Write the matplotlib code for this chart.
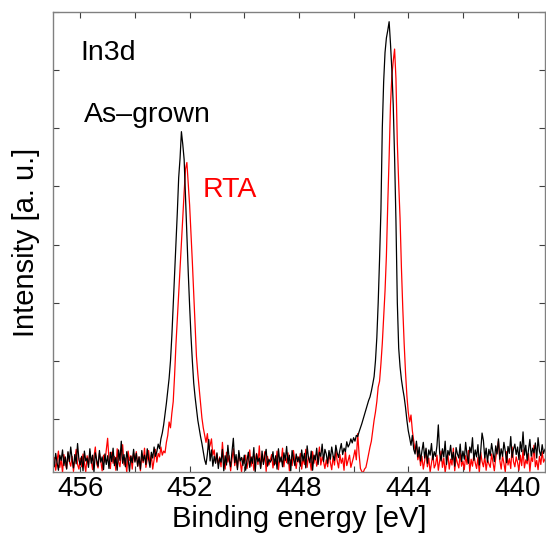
import numpy as np
import matplotlib
matplotlib.use("Agg")
import matplotlib.pyplot as plt
from matplotlib.ticker import MultipleLocator

plt.rcParams["font.family"] = ["Liberation Sans", "DejaVu Sans"]

# In3d XPS spectra, sampled every 0.05 eV from 457.00 eV down to 439.00 eV
e_start = 457.0
e_step = 0.05

# As-grown (black), one row per 1 eV
as_grown = [
    32, 18, 41, 25, 12, 38, 29, 47, 20, 35, 14, 44, 27, 52, 31, 16, 39, 23, 58, 30,  # 457-456
    21, 36, 11, 45, 28, 33, 17, 49, 24, 38, 9, 42, 30, 19, 46, 26, 35, 13, 40, 22,   # 456-455
    37, 15, 43, 27, 50, 20, 34, 12, 47, 29, 62, 24, 39, 18, 44, 31, 10, 36, 25, 48,  # 455-454
    26, 41, 19, 35, 14, 46, 28, 38, 22, 49, 31, 17, 43, 33, 52, 36, 44, 57, 49, 66,  # 454-453
    76, 90, 108, 127, 148, 170, 200, 243, 295, 348, 400, 455, 515, 548, 594, 572, 546, 480, 418, 352,
    295, 243, 200, 162, 138, 118, 98, 84, 70, 58, 44, 30, 22, 40, 65, 28, 47, 19, 36, 24,
    42, 15, 33, 26, 48, 11, 37, 21, 55, 30, 18, 44, 67, 25, 39, 13, 46, 28, 34, 20,  # 451-450
    38, 12, 29, 43, 17, 35, 24, 51, 9, 40, 27, 33, 15, 45, 22, 36, 48, 19, 31, 26,   # 450-449
    30, 44, 21, 37, 14, 49, 26, 35, 18, 42, 29, 53, 23, 38, 11, 46, 32, 20, 40, 27,  # 449-448
    35, 19, 47, 28, 41, 16, 54, 33, 25, 45, 12, 38, 30, 50, 22, 43, 36, 57, 27, 48,  # 448-447
    40, 24, 46, 31, 52, 37, 29, 55, 42, 34, 47, 58, 39, 50, 44, 61, 52, 57, 66, 59,  # 447-446
    68, 62, 72, 70, 78, 85, 92, 100, 108, 116, 124, 132, 138, 148, 160, 173, 200, 240, 300, 375,
    459, 600, 680, 730, 755, 768, 783, 745, 700, 640, 550, 440, 300, 222, 190, 168, 152, 138, 120, 98,
    80, 68, 55, 72, 48, 40, 62, 35, 52, 28, 45, 60, 33, 50, 24, 47, 38, 58, 30, 44,  # 444-443
    36, 54, 90, 41, 28, 49, 35, 62, 22, 46, 38, 55, 30, 43, 19, 51, 40, 33, 57, 27,  # 443-442
    45, 31, 60, 38, 24, 52, 42, 68, 29, 47, 35, 56, 21, 44, 76, 63, 33, 50, 26, 48,  # 442-441
    37, 58, 43, 27, 54, 40, 66, 31, 49, 36, 60, 45, 25, 53, 41, 70, 34, 48, 57, 39,  # 441-440
    52, 30, 61, 44, 78, 38, 55, 29, 47, 65, 36, 50, 42, 59, 33, 68, 45, 37, 56, 41,  # 440-439
    48,
]

# RTA (red)
rta = [
    20, 34, 12, 28, 45, 17, 31, 8, 39, 24, 15, 42, 27, 19, 36, 10, 30, 48, 22, 14,
    33, 18, 40, 25, 9, 37, 21, 44, 29, 13, 35, 52, 23, 16, 41, 28, 11, 38, 26, 47,
    67, 30, 15, 43, 24, 36, 12, 49, 27, 18, 39, 56, 21, 33, 8, 45, 29, 37, 14, 41,
    28, 44, 19, 35, 11, 40, 25, 50, 17, 32, 46, 22, 38, 14, 30, 48, 26, 41, 35, 52,
    38, 45, 42, 60, 72, 95, 85, 110, 130, 175, 228, 272, 318, 360, 405, 450, 490, 530, 541, 505,
    468, 420, 370, 318, 262, 208, 178, 152, 128, 102, 85, 72, 60, 75, 48, 55, 66, 38, 47, 25,
    40, 22, 35, 18, 60, 29, 14, 43, 26, 37, 11, 31, 49, 20, 34, 16, 42, 27, 9, 33,
    24, 38, 15, 30, 47, 19, 35, 12, 28, 41, 22, 54, 17, 32, 26, 44, 10, 36, 21, 29,
    39, 16, 31, 23, 45, 13, 34, 27, 50, 18, 37, 25, 42, 11, 30, 20, 46, 28, 15, 35,
    26, 41, 14, 33, 22, 48, 17, 36, 29, 12, 44, 24, 38, 19, 31, 52, 21, 35, 27, 15,
    30, 18, 42, 25, 13, 36, 21, 47, 28, 16, 39, 24, 33, 12, 45, 20, 29, 38, 17, 26,
    35, 47, 30, 75, 40, 15, 10, 8, 14, 17, 28, 40, 52, 62, 80, 98, 112, 130, 155, 165,
    195, 230, 275, 320, 380, 470, 550, 640, 690, 715, 736, 685, 575, 505, 445, 360, 290, 230, 180, 140,
    112, 95, 107, 80, 62, 45, 58, 30, 42, 20, 36, 14, 28, 47, 18, 33, 9, 25, 40, 16,
    22, 38, 12, 29, 45, 17, 33, 8, 26, 40, 14, 31, 21, 50, 11, 35, 24, 16, 42, 19,
    28, 13, 37, 22, 46, 10, 31, 19, 39, 25, 15, 34, 8, 43, 27, 18, 36, 12, 30, 23,
    17, 40, 26, 11, 33, 48, 62, 29, 14, 37, 24, 9, 44, 21, 32, 15, 52, 27, 18, 35,
    25, 12, 38, 20, 47, 16, 30, 23, 41, 10, 34, 27, 55, 18, 29, 13, 36, 22, 44, 26,
    31,
]

energy = e_start - e_step * np.arange(len(as_grown))

fig = plt.figure(figsize=(5.46, 5.37), dpi=100)
ax = fig.add_axes([0.097, 0.121, 0.901, 0.857])

ax.plot(energy, rta, color="red", lw=0.9)
ax.plot(energy, as_grown, color="black", lw=0.9)

ax.set_xlim(457, 439)
ax.set_ylim(9, 800)
ax.xaxis.set_major_locator(MultipleLocator(4))
ax.xaxis.set_minor_locator(MultipleLocator(2))
ax.yaxis.set_major_locator(MultipleLocator(100))
ax.set_yticklabels([])

for s in ax.spines.values():
    s.set_color("#808080")
    s.set_linewidth(1.0)
ax.tick_params(which="both", direction="in", top=True, right=True,
               length=4, width=0.8, color="#404040", labelsize=20, pad=3)

ax.set_xlabel("Binding energy [eV]", fontsize=21, labelpad=2)
ax.set_ylabel("Intensity [a. u.]", fontsize=21, labelpad=6)

ax.text(456.0, 717, "In3d", fontsize=20.5, va="baseline")
ax.text(455.87, 611, "As\u2013grown", fontsize=20.5, va="baseline")
ax.text(451.53, 482, "RTA", fontsize=20.5, color="red", va="baseline")

fig.savefig("out.png", dpi=100)
